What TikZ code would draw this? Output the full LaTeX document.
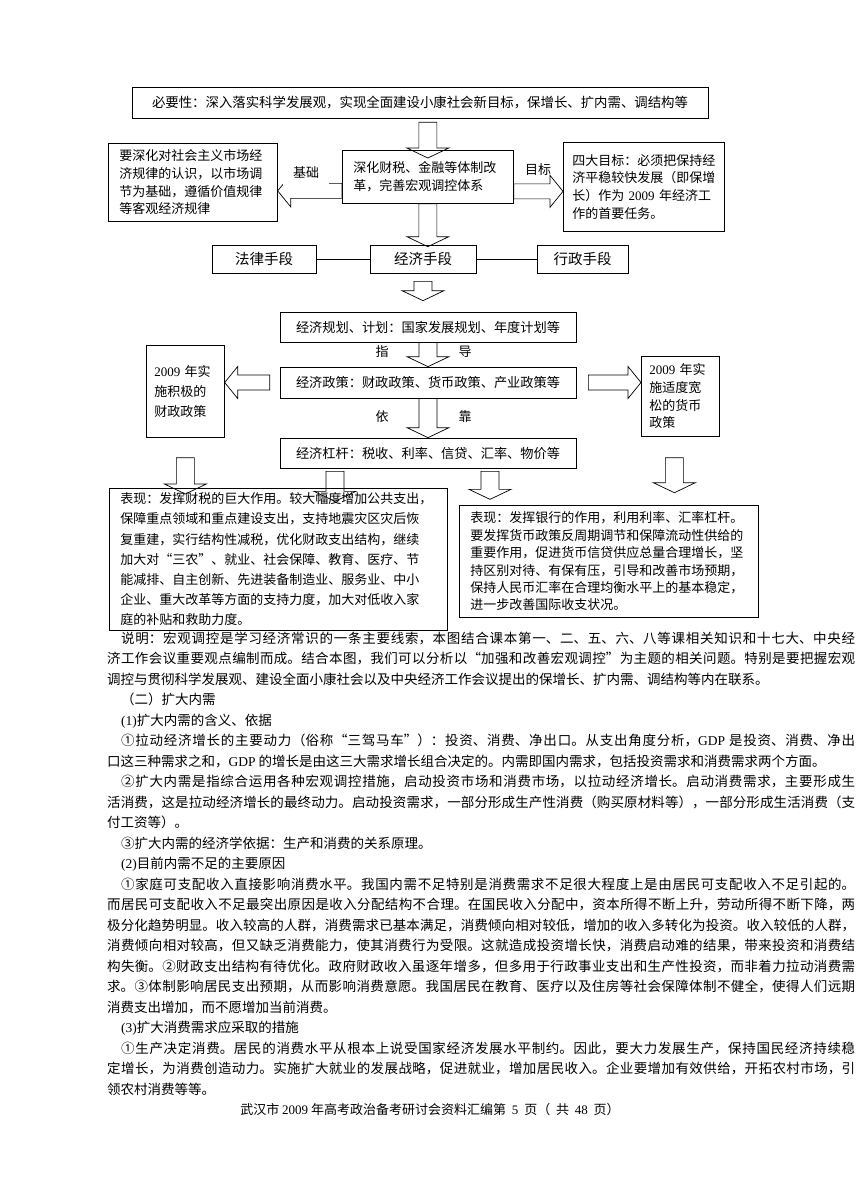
\documentclass[tikz,border=0pt]{standalone}
\usepackage{fontspec}
\setmainfont{Noto Sans CJK SC}
\newfontfamily\tnr{Liberation Serif}
\usetikzlibrary{calc}
\XeTeXlinebreaklocale "zh"
\XeTeXlinebreakskip=0pt plus 1pt minus .1pt

% block arrows between two points
\newcommand\bdown[2]{\draw[blk] let \p1=#1,\p2=#2 in
  (\x1-9pt,\y1)--(\x1-9pt,\y2+10pt)--(\x1-21pt,\y2+10pt)--(\x1,\y2)
  --(\x1+21pt,\y2+10pt)--(\x1+9pt,\y2+10pt)--(\x1+9pt,\y1)--cycle;}
\newcommand\bleft[2]{\draw[blk] let \p1=#1,\p2=#2 in
  (\x1,\y1-7.5pt)--(\x2+13pt,\y1-7.5pt)--(\x2+13pt,\y1-16pt)--(\x2,\y1)
  --(\x2+13pt,\y1+16pt)--(\x2+13pt,\y1+7.5pt)--(\x1,\y1+7.5pt)--cycle;}
\newcommand\bright[2]{\draw[blk] let \p1=#1,\p2=#2 in
  (\x1,\y1-7.5pt)--(\x2-13pt,\y1-7.5pt)--(\x2-13pt,\y1-16pt)--(\x2,\y1)
  --(\x2-13pt,\y1+16pt)--(\x2-13pt,\y1+7.5pt)--(\x1,\y1+7.5pt)--cycle;}
\newcommand\jtext[1]{\parfillskip=0pt\relax #1\par}

\begin{document}
\begin{tikzpicture}[x=1pt,y=-1pt,
  box/.style={draw,line width=.7pt,anchor=north west,align=left,inner xsep=11pt,inner ysep=0pt,font=\fontsize{13}{17.6}\selectfont},
  mbox/.style={draw,line width=.7pt,minimum height=28pt,font=\fontsize{14.5}{17}\selectfont},
  cbox/.style={draw,line width=.7pt,minimum width=296pt,minimum height=30pt,font=\fontsize{13.2}{16}\selectfont},
  lab/.style={font=\fontsize{13}{16}\selectfont,inner sep=1pt},
  blk/.style={line width=.7pt},
  jl/.style={anchor=base west,inner sep=0pt,text width=748pt,align=justify,font=\fontsize{13.5}{20.5}\selectfont},
  jli/.style={jl,text width=734pt}]
\fill[white] (0,0) rectangle (860,1188);
\useasboundingbox (0,0) rectangle (860,1188);

% diagram
\node[draw,line width=.7pt,minimum width=576pt,minimum height=31pt,font=\fontsize{13.4}{16}\selectfont] (need) at (420,102.5)
  {必要性：深入落实科学发展观，实现全面建设小康社会新目标，保增长、扩内需、调结构等};
\node[box,text width=147pt,minimum height=78pt] (base) at (108,143)
  {要深化对社会主义市场经\\济规律的认识，以市场调\\节为基础，遵循价值规律\\等客观经济规律};
\node[box,text width=149pt,minimum height=53pt] (reform) at (342,150)
  {深化财税、金融等体制改\\革，完善宏观调控体系};
\node[box,text width=143pt,inner xsep=9pt,minimum height=89pt] (goal) at (563,142)
  {四大目标：必须把保持经\\济平稳较快发展（即保增\\长）作为 {\tnr 2009} 年经济工\\作的首要任务。};

\node[mbox,minimum width=104pt] (law) at (264,259) {法律手段};
\node[mbox,minimum width=106pt] (eco) at (423,259) {经济手段};
\node[mbox,minimum width=91pt] (adm) at (582.5,259) {行政手段};
\draw[line width=.7pt] (law) -- (eco) (eco) -- (adm);

\node[cbox] (plan) at (428,327) {经济规划、计划：国家发展规划、年度计划等};
\node[cbox,minimum height=31pt] (policy) at (428,382.5) {经济政策：财政政策、货币政策、产业政策等};
\node[cbox] (lever) at (428,453) {经济杠杆：税收、利率、信贷、汇率、物价等};

\node[box,text width=62pt,inner xsep=8pt,minimum height=92pt,font=\fontsize{13}{20}\selectfont] (fisc) at (146,345)
  {{\tnr 2009} 年实\\施积极的\\财政政策};
\node[box,text width=62pt,inner xsep=8pt,minimum height=80pt] (mon) at (641,356)
  {{\tnr 2009} 年实\\施适度宽\\松的货币\\政策};

\node[box,text width=316pt,minimum height=142pt,font=\fontsize{13}{20.2}\selectfont] (fiscdo) at (109,488)
  {表现：发挥财税的巨大作用。较大幅度增加公共支出，\\保障重点领域和重点建设支出，支持地震灾区灾后恢\\复重建，实行结构性减税，优化财政支出结构，继续\\加大对“三农”、就业、社会保障、教育、医疗、节\\能减排、自主创新、先进装备制造业、服务业、中小\\企业、重大改革等方面的支持力度，加大对低收入家\\庭的补贴和救助力度。};
\node[box,text width=277pt,minimum height=112pt,font=\fontsize{13}{17.4}\selectfont] (mondo) at (459,505)
  {表现：发挥银行的作用，利用利率、汇率杠杆。\\要发挥货币政策反周期调节和保障流动性供给的\\重要作用，促进货币信贷供应总量合理增长，坚\\持区别对待、有保有压，引导和改善市场预期，\\保持人民币汇率在合理均衡水平上的基本稳定，\\进一步改善国际收支状况。};

% block arrows
\bdown{($(reform.north |- need.south)+(0,4)$)}{($(reform.north)+(0,8)$)}
\bdown{(reform.south)}{($(eco.north)+(0,2)$)}
\bdown{($(eco.south)+(0,8)$)}{($(plan.north)+(0,-11)$)}
\bdown{(plan.south)}{(policy.north)}
\bdown{(policy.south)}{(lever.north)}
\bdown{($(fisc.south)+(0,20)$)}{($(fisc.south |- fiscdo.north)+(0,6)$)}
\bdown{($(lever.south)+(-93,3)$)}{($(lever.south -| 335,0)+(0,33)$)}
\bdown{($(lever.south)+(62,3)$)}{($(lever.south -| 490,0)+(0,31)$)}
\bdown{($(mon.south)+(-6,21)$)}{($(mon.south -| 674,0)+(0,56)$)}
\bleft{($(reform.west)+(0,14)$)}{($(base.east)+(0,8)$)}
\bright{($(reform.east)+(0,14.5)$)}{($(goal.west)+(0,4.5)$)}
\bleft{($(policy.west)+(-10,0)$)}{(fisc.east)}
\bright{($(policy.east)+(12,0)$)}{($(mon.west)+(0,-14.5)$)}

\node[lab,fill=white,minimum width=46pt,text height=10pt,text depth=8pt] (jichu) at (306,176) {基础};
\node[lab] (mubiao) at (538,170) {目标};
\node[lab] (zhi) at (382,352) {指};
\node[lab] (dao) at (465,352) {导};
\node[lab] (yi) at (382,417) {依};
\node[lab] (kao) at (465,417) {靠};

% text below the diagram
\node[jli] (t0) at (121,643.1) {\jtext{说明：宏观调控是学习经济常识的一条主要线索，本图结合课本第一、二、五、六、八等课相关知识和十七大、中央经}};
\node[jl] (t1) at (107,663.6) {\jtext{济工作会议重要观点编制而成。结合本图，我们可以分析以“加强和改善宏观调控”为主题的相关问题。特别是要把握宏观}};
\node[jl] (t2) at (107,684.1) {调控与贯彻科学发展观、建设全面小康社会以及中央经济工作会议提出的保增长、扩内需、调结构等内在联系。};
\node[jli] (t3) at (121,704.6) {（二）扩大内需};
\node[jli] (t4) at (121,725.1) {{\tnr (1)}扩大内需的含义、依据};
\node[jli] (t5) at (121,745.6) {\jtext{①拉动经济增长的主要动力（俗称“三驾马车”）：投资、消费、净出口。从支出角度分析，{\tnr GDP} 是投资、消费、净出}};
\node[jl] (t6) at (107,766.1) {口这三种需求之和，{\tnr GDP} 的增长是由这三大需求增长组合决定的。内需即国内需求，包括投资需求和消费需求两个方面。};
\node[jli] (t7) at (121,786.6) {\jtext{②扩大内需是指综合运用各种宏观调控措施，启动投资市场和消费市场，以拉动经济增长。启动消费需求，主要形成生}};
\node[jl] (t8) at (107,807.1) {\jtext{活消费，这是拉动经济增长的最终动力。启动投资需求，一部分形成生产性消费（购买原材料等），一部分形成生活消费（支}};
\node[jl] (t9) at (107,827.6) {付工资等）。};
\node[jli] (t10) at (121,848.1) {③扩大内需的经济学依据：生产和消费的关系原理。};
\node[jli] (t11) at (121,868.6) {{\tnr (2)}目前内需不足的主要原因};
\node[jli] (t12) at (121,889.1) {\jtext{①家庭可支配收入直接影响消费水平。我国内需不足特别是消费需求不足很大程度上是由居民可支配收入不足引起的。}};
\node[jl] (t13) at (107,909.6) {\jtext{而居民可支配收入不足最突出原因是收入分配结构不合理。在国民收入分配中，资本所得不断上升，劳动所得不断下降，两}};
\node[jl] (t14) at (107,930.1) {\jtext{极分化趋势明显。收入较高的人群，消费需求已基本满足，消费倾向相对较低，增加的收入多转化为投资。收入较低的人群，}};
\node[jl] (t15) at (107,950.6) {\jtext{消费倾向相对较高，但又缺乏消费能力，使其消费行为受限。这就造成投资增长快，消费启动难的结果，带来投资和消费结}};
\node[jl] (t16) at (107,971.1) {\jtext{构失衡。②财政支出结构有待优化。政府财政收入虽逐年增多，但多用于行政事业支出和生产性投资，而非着力拉动消费需}};
\node[jl] (t17) at (107,991.6) {\jtext{求。③体制影响居民支出预期，从而影响消费意愿。我国居民在教育、医疗以及住房等社会保障体制不健全，使得人们远期}};
\node[jl] (t18) at (107,1012.1) {消费支出增加，而不愿增加当前消费。};
\node[jli] (t19) at (121,1032.6) {{\tnr (3)}扩大消费需求应采取的措施};
\node[jli] (t20) at (121,1053.1) {\jtext{①生产决定消费。居民的消费水平从根本上说受国家经济发展水平制约。因此，要大力发展生产，保持国民经济持续稳}};
\node[jl] (t21) at (107,1073.6) {\jtext{定增长，为消费创造动力。实施扩大就业的发展战略，促进就业，增加居民收入。企业要增加有效供给，开拓农村市场，引}};
\node[jl] (t22) at (107,1094.1) {领农村消费等等。};

\node[font=\fontsize{13}{16}\selectfont,inner sep=0pt,anchor=base] (foot) at (430,1114.5)
  {武汉市 {\tnr 2009} 年高考政治备考研讨会资料汇编第~~{\tnr 5}~~页（~~共~~{\tnr 48}~~页）};
\end{tikzpicture}
\end{document}
